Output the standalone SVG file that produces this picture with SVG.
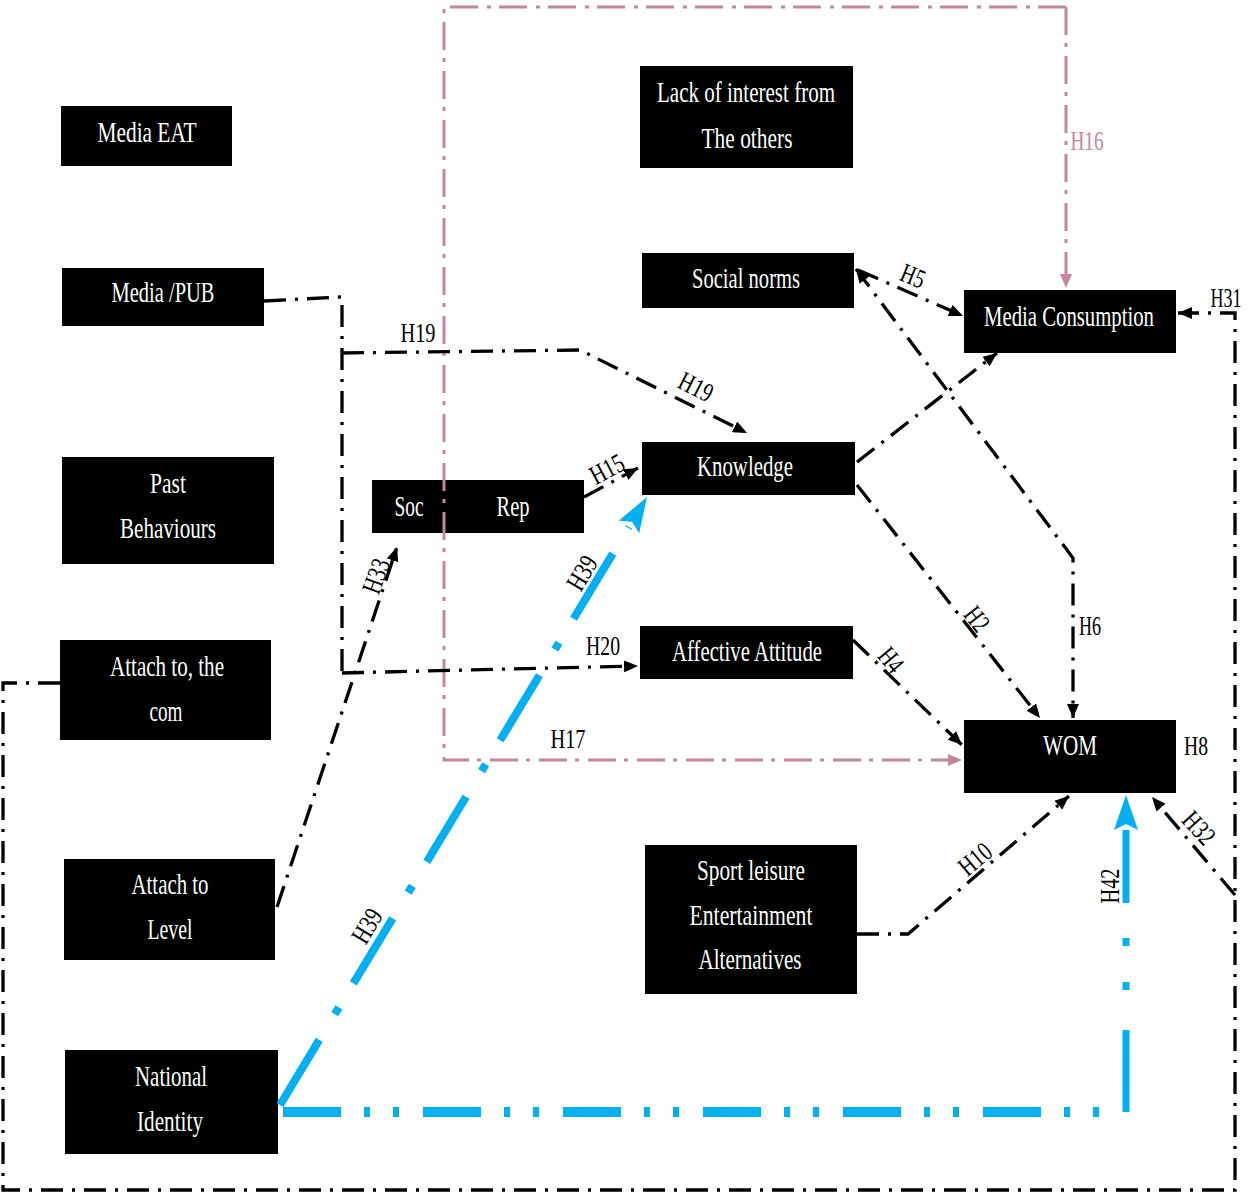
<svg xmlns="http://www.w3.org/2000/svg" width="1251" height="1195" viewBox="0 0 1251 1195">
<style>
.box{fill:#000;}
.nt{fill:#fff;font-family:"Liberation Serif",serif;font-size:29px;text-anchor:middle;}
.lb{fill:#000;font-family:"Liberation Serif",serif;font-size:27px;text-anchor:middle;}
.lbp{fill:#c4879f;font-family:"Liberation Serif",serif;font-size:27px;text-anchor:middle;}
.bk{fill:none;stroke:#000;stroke-width:3.3;stroke-dasharray:22 9 3 9;}
.pk{fill:none;stroke:#c4879f;stroke-width:3;stroke-dasharray:28 8 4 9;}
.bl{fill:none;stroke:#00b0f0;}
</style>
<defs>
<marker id="ab" markerUnits="userSpaceOnUse" markerWidth="14" markerHeight="12" refX="14" refY="6" orient="auto"><path d="M0,0 L14,6 L0,12 z" fill="#000"/></marker>
<marker id="ap" markerUnits="userSpaceOnUse" markerWidth="14" markerHeight="12" refX="14" refY="6" orient="auto"><path d="M0,0 L14,6 L0,12 z" fill="#c4879f"/></marker>
<marker id="abs" markerUnits="userSpaceOnUse" markerWidth="14" markerHeight="12" refX="0" refY="6" orient="auto"><path d="M14,0 L0,6 L14,12 z" fill="#000"/></marker>
<marker id="au" markerUnits="userSpaceOnUse" markerWidth="35" markerHeight="24" refX="0" refY="12" orient="auto"><path d="M0,0 L35,12 L0,24 L6,12 z" fill="#00b0f0"/></marker>
</defs>
<rect width="1251" height="1195" fill="#fff"/>

<g id="nodes">
<g id="media-eat"><rect class="box" x="61" y="106" width="171" height="60"/><text class="nt" x="147" y="142" textLength="99" lengthAdjust="spacingAndGlyphs">Media EAT</text></g>
<g id="media-pub"><rect class="box" x="62" y="268" width="202" height="58"/><text class="nt" x="163" y="302" textLength="103" lengthAdjust="spacingAndGlyphs">Media /PUB</text></g>
<g id="past-behaviours"><rect class="box" x="62" y="457" width="212" height="107"/><text class="nt" x="168" y="493" textLength="36" lengthAdjust="spacingAndGlyphs">Past</text><text class="nt" x="168" y="538" textLength="96" lengthAdjust="spacingAndGlyphs">Behaviours</text></g>
<g id="attach-com"><rect class="box" x="60" y="640" width="211" height="100"/><text class="nt" x="167" y="676" textLength="114" lengthAdjust="spacingAndGlyphs">Attach to, the</text><text class="nt" x="166" y="721" textLength="33" lengthAdjust="spacingAndGlyphs">com</text></g>
<g id="attach-level"><rect class="box" x="64" y="859" width="211" height="101"/><text class="nt" x="170" y="894" textLength="77" lengthAdjust="spacingAndGlyphs">Attach to</text><text class="nt" x="170" y="939" textLength="45" lengthAdjust="spacingAndGlyphs">Level</text></g>
<g id="national-identity"><rect class="box" x="65" y="1050" width="213" height="104"/><text class="nt" x="171" y="1086" textLength="72" lengthAdjust="spacingAndGlyphs">National</text><text class="nt" x="170" y="1131" textLength="66" lengthAdjust="spacingAndGlyphs">Identity</text></g>
<g id="soc-rep"><rect class="box" x="372" y="480" width="212" height="53"/><text class="nt" x="409" y="516" textLength="29" lengthAdjust="spacingAndGlyphs">Soc</text><text class="nt" x="513" y="516" textLength="33" lengthAdjust="spacingAndGlyphs">Rep</text></g>
<g id="lack-of-interest"><rect class="box" x="640" y="66" width="213" height="102"/><text class="nt" x="746" y="102" textLength="178" lengthAdjust="spacingAndGlyphs">Lack of interest from</text><text class="nt" x="747" y="148" textLength="91" lengthAdjust="spacingAndGlyphs">The others</text></g>
<g id="social-norms"><rect class="box" x="642" y="253" width="212" height="55"/><text class="nt" x="746" y="288" textLength="108" lengthAdjust="spacingAndGlyphs">Social norms</text></g>
<g id="media-consumption"><rect class="box" x="964" y="290" width="212" height="63"/><text class="nt" x="1069" y="326" textLength="170" lengthAdjust="spacingAndGlyphs">Media Consumption</text></g>
<g id="knowledge"><rect class="box" x="642" y="442" width="213" height="53"/><text class="nt" x="745" y="476" textLength="96" lengthAdjust="spacingAndGlyphs">Knowledge</text></g>
<g id="affective-attitude"><rect class="box" x="640" y="626" width="213" height="53"/><text class="nt" x="747" y="661" textLength="150" lengthAdjust="spacingAndGlyphs">Affective Attitude</text></g>
<g id="wom"><rect class="box" x="964" y="720" width="212" height="73"/><text class="nt" x="1070" y="755" textLength="54" lengthAdjust="spacingAndGlyphs">WOM</text></g>
<g id="sport-leisure"><rect class="box" x="645" y="845" width="212" height="149"/><text class="nt" x="751" y="880" textLength="108" lengthAdjust="spacingAndGlyphs">Sport leisure</text><text class="nt" x="751" y="925" textLength="123" lengthAdjust="spacingAndGlyphs">Entertainment</text><text class="nt" x="750" y="969" textLength="103" lengthAdjust="spacingAndGlyphs">Alternatives</text></g>
</g>

<g id="connectors">
<path class="pk" d="M1066,7 L444,7 L444,760 L962,760" marker-end="url(#ap)"/>
<path class="pk" d="M1066,7 L1066,288" marker-end="url(#ap)"/>
<path class="bk" d="M264,301 L340,297 L342,297 L342,673"/>
<path class="bk" d="M342,353 L580,350 L747,433" marker-end="url(#ab)"/>
<path class="bk" d="M342,673 L638,666" marker-end="url(#ab)"/>
<path class="bk" d="M60,683 L3,683 L3,1190 L1235,1190 L1235,313 L1178,313" marker-end="url(#ab)"/>
<path class="bk" d="M1235,895 L1152,797" marker-end="url(#ab)"/>
<path class="bk" d="M277,907 L397,547" marker-end="url(#ab)"/>
<path class="bk" d="M584,497 L638,468" marker-end="url(#ab)"/>
<path class="bk" d="M858,270 L963,316" marker-end="url(#ab)"/>
<path class="bk" d="M856,269 L1073,558 L1073,718" marker-start="url(#abs)" marker-end="url(#ab)"/>
<path class="bk" d="M857,462 L997,353" marker-end="url(#ab)"/>
<path class="bk" d="M857,485 L1040,718" marker-end="url(#ab)"/>
<path class="bk" d="M853,640 L962,745" marker-end="url(#ab)"/>
<path class="bk" d="M857,934 L908,934 L1069,796" marker-end="url(#ab)"/>
<path class="bl" d="M280,1105 L628.9,527" stroke-width="8" stroke-dasharray="76 30 8 28" marker-end="url(#au)"/>
<path class="bl" d="M283,1112 L1118,1112" stroke-width="10" stroke-dasharray="58 23 6 23 6 24"/>
<path class="bl" d="M1126,1112 L1126,830" stroke-width="7" stroke-dasharray="82 40 8 36 8 35 80" marker-end="url(#au)"/>
</g>

<g id="labels">
<text class="lb" x="418" y="342" textLength="35" lengthAdjust="spacingAndGlyphs">H19</text>
<text class="lb" transform="translate(696,387) rotate(27)" x="0" y="9" textLength="35" lengthAdjust="spacingAndGlyphs">H19</text>
<text class="lb" transform="translate(607,469) rotate(-28)" x="0" y="9" textLength="35" lengthAdjust="spacingAndGlyphs">H15</text>
<text class="lb" transform="translate(913,276) rotate(22)" x="0" y="9" textLength="24" lengthAdjust="spacingAndGlyphs">H5</text>
<text class="lb" x="1226" y="307" textLength="31" lengthAdjust="spacingAndGlyphs">H31</text>
<text class="lbp" x="1087" y="150" textLength="33" lengthAdjust="spacingAndGlyphs">H16</text>
<text class="lb" x="1090" y="635" textLength="22" lengthAdjust="spacingAndGlyphs">H6</text>
<text class="lb" transform="translate(977,619) rotate(52)" x="0" y="9" textLength="24" lengthAdjust="spacingAndGlyphs">H2</text>
<text class="lb" transform="translate(891,660) rotate(50)" x="0" y="9" textLength="24" lengthAdjust="spacingAndGlyphs">H4</text>
<text class="lb" x="1196" y="755" textLength="24" lengthAdjust="spacingAndGlyphs">H8</text>
<text class="lb" transform="translate(1199,828) rotate(48)" x="0" y="9" textLength="35" lengthAdjust="spacingAndGlyphs">H32</text>
<text class="lb" transform="translate(975,859) rotate(-40)" x="0" y="9" textLength="35" lengthAdjust="spacingAndGlyphs">H10</text>
<text class="lb" transform="translate(1110,886) rotate(-90)" x="0" y="9" textLength="35" lengthAdjust="spacingAndGlyphs">H42</text>
<text class="lb" x="603" y="655" textLength="34" lengthAdjust="spacingAndGlyphs">H20</text>
<text class="lb" x="568" y="748" textLength="35" lengthAdjust="spacingAndGlyphs">H17</text>
<text class="lb" transform="translate(376,576) rotate(-70)" x="0" y="9" textLength="35" lengthAdjust="spacingAndGlyphs">H33</text>
<text class="lb" transform="translate(582,573) rotate(-59)" x="0" y="9" textLength="35" lengthAdjust="spacingAndGlyphs">H39</text>
<text class="lb" transform="translate(367,926) rotate(-59)" x="0" y="9" textLength="35" lengthAdjust="spacingAndGlyphs">H39</text>
</g>
</svg>
